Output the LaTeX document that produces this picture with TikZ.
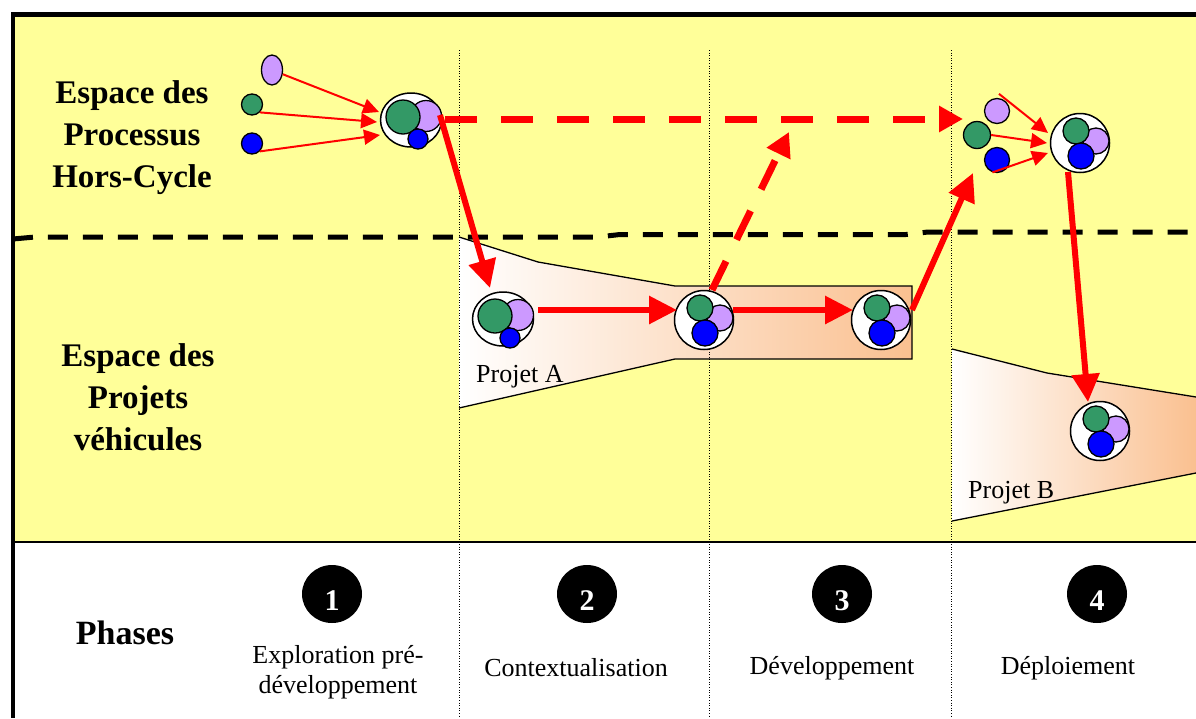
\documentclass[tikz,border=0pt]{standalone}
\usepackage{fontspec}
\setmainfont{Liberation Serif}
\usetikzlibrary{arrows.meta,calc,shapes.geometric}
\definecolor{bgyellow}{HTML}{FFFF99}
\definecolor{lav}{HTML}{CC99FF}
\definecolor{grn}{HTML}{339966}
\definecolor{blu}{HTML}{0000FF}
\definecolor{peach}{HTML}{FAC090}
\definecolor{arrred}{HTML}{FF0000}
\tikzset{
  outerc/.style={circle,draw=black,fill=white,line width=1.5pt,inner sep=0pt,minimum size=59pt},
  outere/.style={ellipse,draw=black,fill=white,line width=1.5pt,inner sep=0pt,minimum width=61pt,minimum height=54pt},
  ball/.style={circle,draw=black,line width=1.3pt,inner sep=0pt,minimum size=#1},
  lavball/.style={ball=#1,fill=lav},
  grnball/.style={ball=#1,fill=grn},
  bluball/.style={ball=#1,fill=blu},
  thinarrow/.style={draw=arrred,line width=2pt,-{Triangle[length=16pt,width=15pt]},arrred},
  thickarrow/.style={draw=arrred,line width=6pt,-{Triangle[length=28pt,width=27pt]},arrred},
  dasharrow/.style={draw=arrred,line width=7pt,dash pattern=on 32pt off 24pt,-{Triangle[length=24pt,width=25pt]},arrred},
  dotline/.style={line width=0.8pt,dash pattern=on 1pt off 1.6pt},
  sepline/.style={line width=5pt,dash pattern=on 20pt off 15pt},
  funnel/.style={line width=1.3pt},
  spacelabel/.style={align=center,font=\bfseries\fontsize{33}{42}\selectfont},
  phasenum/.style={ellipse,fill=black,inner sep=0pt,minimum width=60pt,minimum height=58pt,text=white,font=\bfseries\fontsize{30}{32}\selectfont},
  phaselabel/.style={align=center,font=\fontsize{26}{30}\selectfont},
  projlabel/.style={anchor=base west,inner sep=0pt,font=\fontsize{26}{30}\selectfont}
}
\newcommand\mkcluster[2]{%
  \node[outerc] (#1) at (#2) {};
  \node[lavball=26pt] (#1l) at ($(#1)+(16,-2)$) {};
  \node[grnball=26pt] (#1g) at ($(#1)+(-4,-12)$) {};
  \node[bluball=26pt] (#1b) at ($(#1)+(1,13)$) {};
}
\newcommand\mkbigcluster[2]{%
  \node[outere] (#1) at (#2) {};
  \node[lavball=31pt] (#1l) at ($(#1)+(15,-4)$) {};
  \node[grnball=34pt] (#1g) at ($(#1)+(-8,-3)$) {};
  \node[bluball=20pt] (#1b) at ($(#1)+(7,19)$) {};
}
\newcommand\phdigit[1]{\raisebox{-16pt}[0pt][0pt]{#1}}
\begin{document}
\begin{tikzpicture}[x=1pt,y=-1pt]
\useasboundingbox (0,0) rectangle (1196,718);
\fill[white] (0,0) rectangle (1196,718);
\fill[bgyellow] (13,14) rectangle (1196,542);

% funnels
\shade[left color=white,right color=peach] (459,237) -- (538,262) -- (675,286) -- (912,286) -- (912,359) -- (675,359) -- (459,408) -- cycle;
\draw[funnel] (459,237) -- (538,262) -- (675,286) -- (912,286) -- (912,359) -- (675,359) -- (459,408);
\shade[left color=white,right color=peach] (952,349) -- (1047,373) -- (1196,397) -- (1196,473) -- (952,521) -- cycle;
\draw[funnel] (952,349) -- (1047,373) -- (1196,397);
\draw[funnel] (1196,473) -- (952,521);

% dotted phase separators
\foreach \x in {459,709,951} \draw[dotline] (\x,50) -- (\x,718);

% dashed boundary
\draw[sepline] (13,239) -- (35,237) -- (598,237) -- (620,234.5) -- (906,234.5) -- (928,232) -- (1196,232);

% frame
\draw[line width=5pt] (11,14.5) -- (1196,14.5);
\draw[line width=4.5pt] (13,12) -- (13,718);
\draw[line width=2pt] (13,542) -- (1196,542);

% labels
\node[spacelabel] (lblhc) at (132,138) {Espace des\\Processus\\Hors-Cycle};
\node[spacelabel] (lblpv) at (138,397) {Espace des\\Projets\\véhicules};
\node[font=\bfseries\fontsize{34}{40}\selectfont] (lblph) at (125,633) {Phases};
\node[projlabel] (lbla) at (476,382) {Projet A};
\node[projlabel] (lblb) at (968,498) {Projet B};

% phases
\node[phasenum] (ph1) at (332,594) {\phdigit{1}};
\node[phasenum] (ph2) at (587,594) {\phdigit{2}};
\node[phasenum] (ph3) at (842,594) {\phdigit{3}};
\node[phasenum] (ph4) at (1097,594) {\phdigit{4}};
\node[phaselabel] (phl1) at (338,672) {Exploration pré-\\développement};
\node[phaselabel] (phl2) at (576,668) {Contextualisation};
\node[phaselabel] (phl3) at (832,668) {Développement};
\node[phaselabel] (phl4) at (1068,668) {Déploiement};

% hors-cycle items
\node[ellipse,draw=black,line width=1.3pt,fill=lav,inner sep=0pt,minimum width=21pt,minimum height=30pt] (p1) at (272,70) {};
\node[grnball=21pt] (p2) at (252,104.5) {};
\node[bluball=21pt] (p3) at (252,143.5) {};
\mkbigcluster{h1}{411,120}
\node[lavball=25pt] (t2l) at (997,111) {};
\node[grnball=27pt] (t2g) at (977,135) {};
\node[bluball=25pt] (t2b) at (997,160) {};
\mkcluster{h2}{1080,143}

% project items
\mkbigcluster{a1}{503,319}
\mkcluster{a2}{704,320}
\mkcluster{a3}{881,320}
\mkcluster{b}{1100,431}

% arrow end coordinates
\coordinate (h1in1) at ($(h1)+(-32,-8)$);
\coordinate (h1in2) at ($(h1)+(-34,2)$);
\coordinate (h1in3) at ($(h1)+(-31,15)$);
\coordinate (t2start) at ($(t2l.north)+(2,-4)$);
\coordinate (h2in1) at ($(h2)+(-32,-10)$);
\coordinate (h2in2) at ($(h2)+(-33,0)$);
\coordinate (h2in3) at ($(h2)+(-32,10)$);
\coordinate (toph2) at ($(t2g)+(-14,-16)$);
\coordinate (tomid) at ($(a2)+(85,-188)$);
\coordinate (tot2) at ($(t2g)+(-4,38)$);

% arrows
\draw[thinarrow] (p1) -- (h1in1);
\draw[thinarrow] (p2.south east) -- (h1in2);
\draw[thinarrow] (p3.south east) -- (h1in3);
\draw[thinarrow] (t2start) -- (h2in1);
\draw[thinarrow] (t2g.east) -- (h2in2);
\draw[thinarrow] (t2b.250) -- (h2in3);

\draw[dasharrow] ($(h1)+(34,-1)$) -- (toph2);
\draw[thickarrow] ($(h1)+(29,-5)$) -- ($(a1)+(-13,-31)$);
\draw[thickarrow] ($(a1)+(35,-9)$) -- ($(a2)+(-27,-10)$);
\draw[thickarrow] ($(a2)+(29,-10)$) -- ($(a3)+(-28,-10)$);
\draw[dasharrow] ($(a2)+(8,-30)$) -- (tomid);
\draw[thickarrow] ($(a3)+(31,-10)$) -- (tot2);
\draw[thickarrow] ($(h2)+(-12,29)$) -- ($(b)+(-12,-29)$);
\end{tikzpicture}
\end{document}
